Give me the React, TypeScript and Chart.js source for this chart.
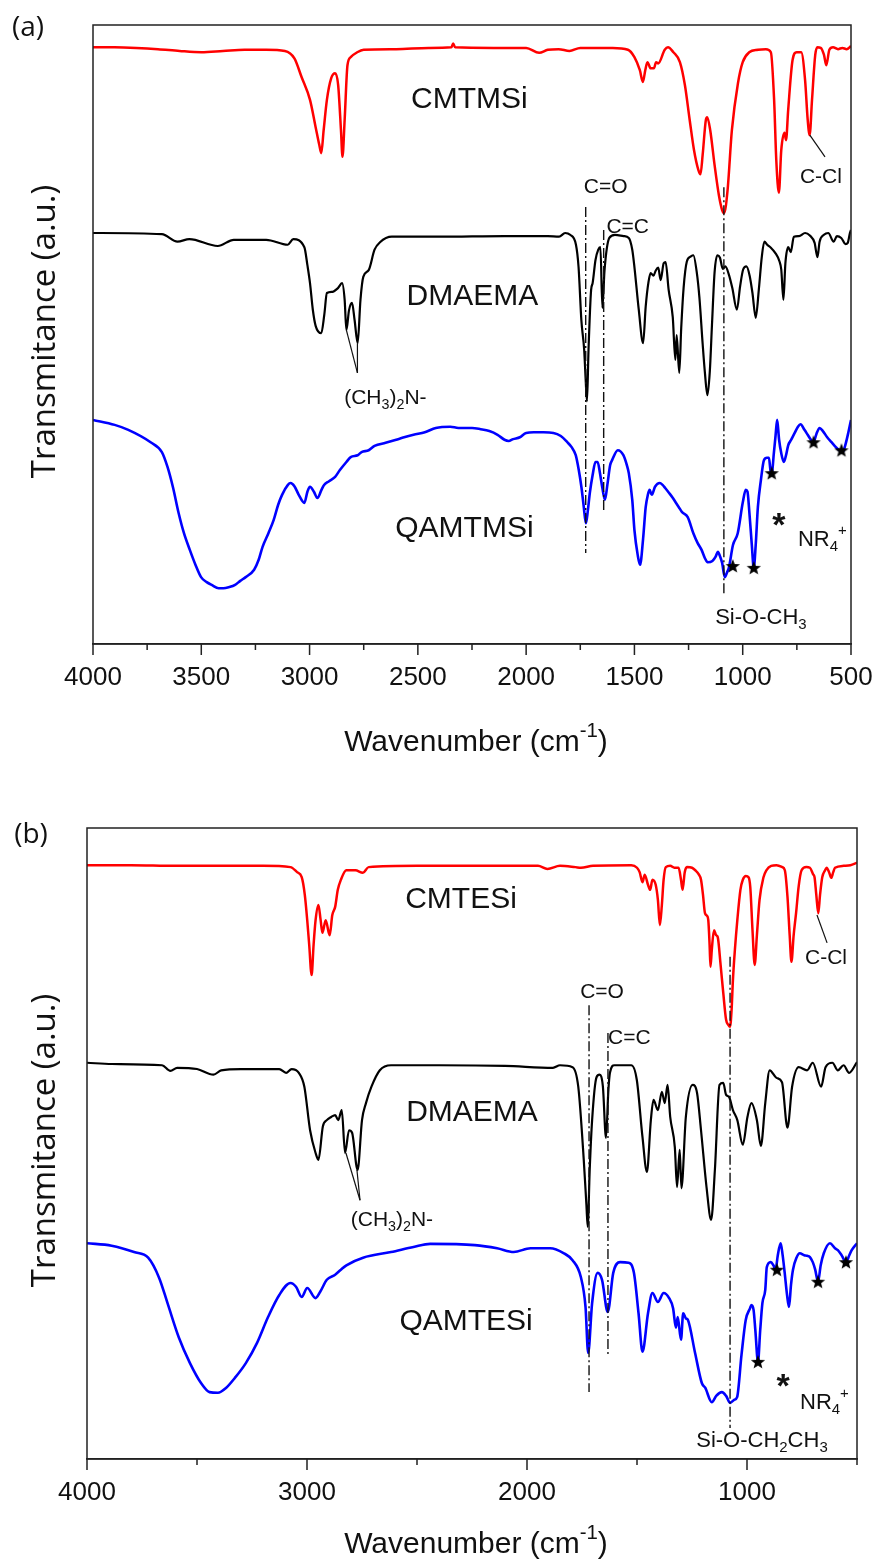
import React, { useEffect, useRef } from "react";
import { Chart, registerables } from "chart.js";
Chart.register(...registerables);

type Pt = [number, number];

// ---------- Panel (a) spectra : [wavenumber, transmittance a.u.] ----------
const cmtmsi: Pt[] = [[4000,96.4],[3900,96.4],[3800,96.3],[3700,96.1],[3600,95.8],[3500,95.6],[3400,95.8],[3300,96.0],[3200,96.0],[3114,95.8],[3070,94.6],[3037,91.6],[2998,87.9],[2972,83.5],[2955,80.6],[2946,79.3],[2935,83.0],[2920,87.9],[2900,91.4],[2882,92.2],[2868,90.3],[2855,83.0],[2848,78.7],[2838,84.7],[2825,93.5],[2810,94.8],[2780,95.6],[2750,96.0],[2600,96.1],[2450,96.3],[2345,96.4],[2337,97.0],[2328,96.4],[2150,96.3],[2000,96.3],[1940,95.5],[1900,96.0],[1850,96.1],[1800,95.8],[1750,96.3],[1600,96.3],[1530,96.0],[1500,94.8],[1475,92.7],[1461,90.8],[1450,92.7],[1440,94.0],[1425,93.0],[1410,93.0],[1400,94.0],[1390,93.8],[1360,96.0],[1345,96.4],[1320,95.6],[1290,94.0],[1267,90.3],[1245,84.7],[1225,79.8],[1205,76.6],[1195,75.9],[1185,79.0],[1170,84.7],[1164,85.1],[1150,83.0],[1130,77.4],[1110,72.5],[1095,70.1],[1086,69.6],[1070,73.3],[1050,83.0],[1022,90.6],[1000,94.0],[970,95.6],[930,96.0],[893,96.1],[870,95.6],[855,87.9],[845,78.2],[833,72.9],[822,79.8],[807,82.6],[800,81.4],[790,86.3],[770,94.3],[751,95.6],[730,95.6],[712,91.1],[700,84.7],[691,82.2],[680,87.9],[665,95.2],[655,96.4],[640,96.3],[625,95.2],[614,93.5],[600,96.0],[583,96.4],[560,96.1],[540,96.3],[520,96.1],[500,96.6]];

const dmaemaA: Pt[] = [[4000,66.4],[3682,66.2],[3610,65.0],[3555,65.4],[3424,64.3],[3350,65.3],[3200,65.3],[3101,64.5],[3075,65.4],[3024,64.1],[3010,61.2],[2998,58.3],[2985,54.0],[2972,51.4],[2946,50.2],[2932,53.2],[2920,56.7],[2895,56.9],[2869,57.5],[2850,58.3],[2838,55.6],[2830,50.7],[2818,53.9],[2804,55.1],[2792,52.3],[2778,48.6],[2765,55.6],[2752,59.3],[2727,60.4],[2700,63.7],[2675,64.9],[2620,65.8],[2400,65.8],[2100,65.9],[1900,65.9],[1848,65.8],[1820,66.4],[1797,66.1],[1770,64.5],[1758,60.9],[1745,52.3],[1732,47.5],[1725,42.6],[1719,39.2],[1712,47.5],[1700,57.2],[1693,58.3],[1680,62.0],[1667,63.7],[1657,64.1],[1648,54.3],[1638,60.4],[1616,65.6],[1590,66.1],[1550,65.9],[1526,65.6],[1510,63.7],[1500,60.9],[1480,54.0],[1460,48.6],[1448,54.5],[1435,58.5],[1425,59.9],[1412,59.5],[1402,60.3],[1390,60.8],[1379,58.8],[1365,61.5],[1356,61.7],[1342,57.2],[1323,52.8],[1311,45.9],[1305,49.9],[1293,43.8],[1284,51.0],[1273,57.5],[1258,61.8],[1240,62.6],[1228,62.8],[1212,60.0],[1200,56.0],[1185,48.5],[1175,44.0],[1163,40.2],[1152,44.0],[1142,51.5],[1130,60.0],[1117,62.8],[1105,62.4],[1092,60.6],[1080,61.0],[1065,59.8],[1048,57.5],[1027,54.0],[1012,57.8],[998,60.5],[983,61.0],[968,59.5],[955,56.7],[940,52.7],[925,57.5],[912,62.5],[900,65.0],[887,64.5],[870,64.0],[850,63.2],[830,61.8],[822,60.5],[812,55.6],[803,61.5],[790,64.1],[778,63.3],[764,65.8],[740,65.9],[712,66.4],[690,66.0],[668,64.8],[655,62.5],[645,65.0],[625,66.1],[605,66.4],[580,65.0],[565,65.9],[545,65.6],[525,64.6],[515,64.8],[505,66.4],[500,66.9]];

const qamtmsi: Pt[] = [[4000,36.2],[3900,35.4],[3837,34.6],[3734,32.6],[3682,31.0],[3656,28.6],[3630,25.2],[3605,21.2],[3580,17.9],[3553,15.2],[3527,12.8],[3501,10.8],[3475,10.0],[3450,9.5],[3420,9.0],[3398,9.0],[3370,9.2],[3346,9.5],[3320,10.2],[3295,10.8],[3256,12.0],[3235,13.6],[3217,15.7],[3190,17.9],[3166,20.0],[3145,22.5],[3127,24.1],[3100,25.7],[3088,26.0],[3070,25.5],[3050,24.1],[3024,22.8],[3010,24.6],[2998,25.4],[2980,24.6],[2964,23.6],[2945,24.9],[2933,25.7],[2910,26.3],[2882,27.0],[2860,28.1],[2830,29.4],[2810,30.2],[2778,30.5],[2760,31.0],[2727,31.3],[2700,32.0],[2649,32.5],[2600,33.0],[2572,33.3],[2520,33.8],[2468,34.2],[2417,34.9],[2350,35.1],[2313,34.9],[2250,34.9],[2210,34.7],[2170,34.4],[2132,33.8],[2100,33.0],[2081,32.8],[2060,33.1],[2029,33.4],[2000,34.1],[1965,34.2],[1920,34.2],[1874,34.1],[1840,33.6],[1810,32.6],[1790,31.8],[1771,30.5],[1757,28.1],[1745,25.4],[1735,22.5],[1724,19.5],[1715,21.6],[1706,24.4],[1693,27.3],[1680,29.4],[1670,29.4],[1660,27.8],[1648,25.2],[1636,23.3],[1625,25.7],[1612,28.9],[1603,29.7],[1577,31.3],[1551,30.5],[1535,28.9],[1526,27.6],[1510,23.3],[1500,18.4],[1485,14.4],[1474,12.8],[1460,17.0],[1448,22.1],[1438,24.1],[1430,24.9],[1420,24.1],[1405,25.4],[1383,26.0],[1370,25.7],[1358,25.2],[1340,24.4],[1325,23.7],[1310,22.9],[1295,22.1],[1280,21.3],[1254,20.5],[1228,17.9],[1208,16.3],[1190,15.2],[1175,13.9],[1162,13.2],[1140,13.4],[1125,14.1],[1115,14.9],[1105,14.2],[1095,13.1],[1083,10.8],[1072,11.6],[1064,12.3],[1045,16.0],[1023,17.9],[1000,22.8],[986,24.9],[978,24.6],[970,21.6],[958,16.0],[949,12.3],[940,16.0],[930,22.1],[916,26.5],[902,29.7],[888,30.1],[879,30.1],[872,28.1],[866,27.6],[856,30.9],[848,33.8],[841,36.2],[832,33.0],[823,31.0],[810,29.4],[800,30.5],[790,32.1],[776,33.0],[760,34.1],[745,35.1],[733,35.5],[715,34.6],[700,33.8],[685,33.0],[673,32.6],[660,33.9],[645,34.9],[630,34.4],[610,33.4],[590,32.6],[570,31.8],[550,31.2],[538,31.0],[525,32.3],[512,34.2],[500,36.2]];

// ---------- Panel (b) spectra ----------
const cmtesi: Pt[] = [[4000,94.1],[3800,94.1],[3600,94.0],[3400,94.0],[3200,94.0],[3075,93.8],[3045,93.0],[3024,92.2],[3010,89.4],[2999,85.4],[2990,81.5],[2979,76.7],[2970,81.5],[2961,85.4],[2948,87.8],[2938,85.4],[2930,83.4],[2915,85.4],[2897,83.0],[2885,86.2],[2872,87.5],[2860,90.2],[2846,91.8],[2821,93.3],[2780,93.3],[2746,92.9],[2720,93.8],[2500,94.0],[2200,94.0],[1950,94.0],[1907,93.5],[1850,94.0],[1780,93.8],[1755,93.7],[1700,94.0],[1526,94.1],[1500,93.7],[1488,93.0],[1475,91.4],[1465,92.6],[1450,91.0],[1440,90.2],[1430,91.8],[1415,91.0],[1405,88.6],[1396,84.6],[1387,87.8],[1379,91.8],[1369,93.8],[1349,94.0],[1330,93.7],[1311,93.7],[1300,91.8],[1293,90.2],[1283,93.0],[1273,93.8],[1250,93.7],[1235,93.3],[1220,92.7],[1209,91.8],[1200,89.4],[1191,86.5],[1182,86.1],[1176,85.4],[1170,81.5],[1166,78.0],[1160,80.7],[1150,83.8],[1140,83.0],[1133,82.7],[1120,78.3],[1108,73.9],[1095,69.6],[1085,68.8],[1077,68.5],[1070,71.2],[1064,75.9],[1055,80.7],[1044,85.4],[1030,90.2],[1019,91.8],[1005,92.4],[993,92.2],[985,90.6],[975,83.8],[965,78.3],[955,83.0],[943,88.6],[925,92.2],[912,93.3],[890,94.0],[866,94.1],[840,93.8],[828,93.3],[816,89.1],[806,83.0],[798,78.8],[788,83.0],[777,86.5],[765,90.8],[752,93.3],[730,93.8],[714,93.7],[700,92.7],[693,92.2],[685,89.4],[676,86.5],[668,89.4],[658,92.2],[645,93.3],[638,93.7],[627,93.0],[617,92.1],[608,93.0],[600,93.7],[560,94.0],[530,94.1],[500,94.5]];

const dmaemaB: Pt[] = [[4000,62.8],[3887,62.6],[3659,62.4],[3621,61.5],[3590,62.0],[3500,61.8],[3425,60.9],[3390,61.6],[3300,61.8],[3126,61.8],[3095,61.2],[3070,61.8],[3037,61.2],[3012,59.0],[2986,52.1],[2961,48.5],[2948,47.4],[2928,52.7],[2910,53.7],[2890,54.2],[2872,54.5],[2858,53.7],[2842,55.3],[2827,48.5],[2809,52.1],[2795,51.7],[2770,45.8],[2750,53.7],[2732,56.4],[2707,59.0],[2669,61.6],[2618,62.4],[2400,62.4],[2100,62.3],[1882,62.0],[1850,62.4],[1793,62.1],[1767,59.0],[1742,47.4],[1730,40.3],[1724,36.8],[1715,45.8],[1704,53.7],[1684,60.5],[1670,60.9],[1655,59.0],[1641,50.9],[1630,58.5],[1623,61.2],[1603,62.4],[1526,62.4],[1501,60.1],[1475,51.0],[1455,45.5],[1437,53.7],[1425,56.9],[1405,55.3],[1387,58.2],[1374,56.4],[1361,59.3],[1349,54.2],[1328,49.4],[1318,43.1],[1306,49.0],[1298,42.9],[1278,54.2],[1247,59.3],[1227,58.0],[1209,52.1],[1184,43.1],[1163,37.9],[1146,45.8],[1125,59.3],[1108,59.6],[1095,57.7],[1082,57.4],[1064,55.3],[1044,53.7],[1019,49.8],[998,54.2],[980,56.4],[955,53.7],[937,49.6],[917,56.4],[897,61.6],[866,60.4],[841,59.7],[816,52.5],[795,59.0],[765,62.1],[727,61.6],[701,62.8],[663,59.0],[643,62.1],[612,62.8],[587,61.6],[561,62.4],[536,61.2],[500,62.9]];

const qamtesi: Pt[] = [[4000,34.2],[3888,33.8],[3786,32.8],[3722,31.9],[3672,28.7],[3634,24.7],[3583,19.3],[3532,15.2],[3481,12.0],[3443,10.6],[3405,10.5],[3367,11.3],[3329,12.8],[3278,15.2],[3227,18.4],[3177,22.5],[3126,26.0],[3075,27.9],[3050,27.3],[3024,25.7],[2999,27.1],[2961,25.5],[2940,26.5],[2910,28.4],[2872,29.2],[2846,30.0],[2821,30.7],[2745,31.9],[2618,32.8],[2516,33.6],[2440,34.1],[2237,33.9],[2136,33.4],[2060,32.8],[1984,33.4],[1895,33.4],[1832,32.6],[1793,31.5],[1755,28.8],[1734,24.1],[1722,16.8],[1704,24.7],[1679,29.5],[1659,28.4],[1633,23.3],[1608,29.5],[1577,31.2],[1539,31.1],[1514,29.5],[1493,23.1],[1475,17.0],[1450,23.1],[1430,26.3],[1405,24.9],[1379,26.3],[1354,25.5],[1336,23.9],[1323,20.8],[1315,22.5],[1300,18.9],[1290,23.1],[1278,22.3],[1268,22.0],[1236,16.8],[1205,12.0],[1190,11.3],[1160,9.0],[1140,10.0],[1114,10.6],[1095,10.0],[1077,8.9],[1057,9.4],[1045,9.8],[1025,16.5],[1006,22.0],[986,23.9],[980,24.4],[970,23.6],[962,20.4],[950,15.4],[940,20.4],[930,24.7],[917,26.8],[910,30.4],[892,31.2],[880,30.7],[870,30.0],[860,32.3],[847,34.2],[838,32.3],[829,29.6],[818,26.0],[809,24.1],[800,27.6],[791,30.0],[775,31.9],[760,32.6],[740,32.3],[727,32.2],[714,32.0],[701,31.2],[690,30.0],[677,28.1],[665,30.7],[651,32.6],[623,34.2],[600,33.4],[587,33.1],[570,32.3],[550,31.2],[535,32.3],[524,33.1],[500,34.2]];

// ---------- markers & ticks ----------
const starsA: Pt[] = [[1046,12.6],[949,12.3],[866,27.6],[673,32.6],[544,31.3]];
const starsB: Pt[] = [[950,15.4],[864,30.0],[677,28.1],[550,31.2]];
const tickLabelsA = [4000, 3500, 3000, 2500, 2000, 1500, 1000, 500];
const minorTicksA = [3750, 3250, 2750, 2250, 1750, 1250, 750];
const tickLabelsB = [4000, 3000, 2000, 1000];
const minorTicksB = [3500, 2500, 1500, 500];

// guide lines [wavenumber, yTop, yBottom]
const guidesA: [number, number, number][] = [[1725, 70.6, 14.7], [1642, 66.9, 21.2], [1087, 73.8, 8.2]];
const guidesB: [number, number, number][] = [[1718, 71.9, 10.6], [1632, 67.5, 16.5], [1077, 79.6, 4.9]];
const leadersA: Pt[][] = [[[690, 82.2], [620, 78.7]], [[2830, 50.7], [2779, 43.8]], [[2779, 48.6], [2779, 43.8]]];
const leadersB: Pt[][] = [[[682, 86.2], [636, 81.8]], [[2823, 48.5], [2759, 41.0]], [[2773, 45.8], [2759, 41.0]]];

type Part = { t: string; s?: "sub" | "sup" };
type Label = { x: number; y: number; parts: Part[]; size: number; align?: string; bold?: boolean };

const P = (t: string, s?: "sub" | "sup"): Part => ({ t, s });

const labelsA: Label[] = [
  { x: 2262, y: 87.9, parts: [P("CMTMSi")], size: 30 },
  { x: 2248, y: 56.1, parts: [P("DMAEMA")], size: 30 },
  { x: 2285, y: 18.7, parts: [P("QAMTMSi")], size: 30 },
  { x: 1633, y: 73.8, parts: [P("C=O")], size: 21 },
  { x: 1531, y: 67.4, parts: [P("C=C")], size: 21 },
  { x: 639, y: 75.4, parts: [P("C-Cl")], size: 21 },
  { x: 2650, y: 39.7, parts: [P("(CH"), P("3", "sub"), P(")"), P("2", "sub"), P("N-")], size: 21 },
  { x: 916, y: 4.2, parts: [P("Si-O-CH"), P("3", "sub")], size: 22 },
  { x: 745, y: 16.8, parts: [P("NR"), P("4", "sub"), P("+", "sup")], size: 22, align: "left" },
  { x: 833, y: 18.9, parts: [P("*")], size: 34, bold: true },
];
const labelsB: Label[] = [
  { x: 2300, y: 88.6, parts: [P("CMTESi")], size: 30 },
  { x: 2250, y: 54.8, parts: [P("DMAEMA")], size: 30 },
  { x: 2277, y: 21.7, parts: [P("QAMTESi")], size: 30 },
  { x: 1659, y: 74.0, parts: [P("C=O")], size: 21 },
  { x: 1535, y: 66.7, parts: [P("C=C")], size: 21 },
  { x: 641, y: 79.4, parts: [P("C-Cl")], size: 21 },
  { x: 2614, y: 37.9, parts: [P("(CH"), P("3", "sub"), P(")"), P("2", "sub"), P("N-")], size: 21 },
  { x: 932, y: 2.9, parts: [P("Si-O-CH"), P("2", "sub"), P("CH"), P("3", "sub")], size: 22 },
  { x: 759, y: 8.9, parts: [P("NR"), P("4", "sub"), P("+", "sup")], size: 22, align: "left" },
  { x: 836, y: 11.3, parts: [P("*")], size: 34, bold: true },
];

const RED = "#ff0000";
const BLACK = "#000000";
const BLUE = "#0000ff";
const INK = "#111111";

interface Panel {
  key: string;
  tag: string;
  height: number;
  area: { left: number; top: number; right: number; bottom: number };
  series: { data: Pt[]; color: string; width: number }[];
  stars: Pt[];
  guides: [number, number, number][];
  leaders: Pt[][];
  labels: Label[];
  tickLabels: number[];
  minorTicks: number[];
  step: number;
  tickPad: number;
  xTitleDy: number;
  tagPos: [number, number];
}

const panelA: Panel = {
  key: "a", tag: "(a)", height: 780,
  area: { left: 93, top: 25, right: 851, bottom: 644 },
  series: [
    { data: cmtmsi, color: RED, width: 2.5 },
    { data: dmaemaA, color: BLACK, width: 2.2 },
    { data: qamtmsi, color: BLUE, width: 2.6 },
  ],
  stars: starsA, guides: guidesA, leaders: leadersA, labels: labelsA,
  tickLabels: tickLabelsA, minorTicks: minorTicksA, step: 500, tickPad: 7,
  xTitleDy: 99, tagPos: [28, 28],
};
const panelB: Panel = {
  key: "b", tag: "(b)", height: 782,
  area: { left: 87, top: 48, right: 857, bottom: 679 },
  series: [
    { data: cmtesi, color: RED, width: 2.5 },
    { data: dmaemaB, color: BLACK, width: 2.2 },
    { data: qamtesi, color: BLUE, width: 2.6 },
  ],
  stars: starsB, guides: guidesB, leaders: leadersB, labels: labelsB,
  tickLabels: tickLabelsB, minorTicks: minorTicksB, step: 500, tickPad: 7,
  xTitleDy: 86, tagPos: [31, 55],
};

function fontStr(size: number, family: string, bold?: boolean) {
  return `${bold ? "bold " : ""}${size}px "${family}"`;
}

function drawRich(ctx: CanvasRenderingContext2D, parts: Part[], x: number, y: number, size: number, family: string, align = "center", bold = false) {
  const sizes = parts.map((p) => (p.s ? size * 0.68 : size));
  const widths = parts.map((p, i) => {
    ctx.font = fontStr(sizes[i], family, bold);
    return ctx.measureText(p.t).width;
  });
  const W = widths.reduce((a, b) => a + b, 0);
  let cx = align === "center" ? x - W / 2 : align === "right" ? x - W : x;
  ctx.textAlign = "left";
  ctx.textBaseline = "middle";
  parts.forEach((p, i) => {
    ctx.font = fontStr(sizes[i], family, bold);
    const dy = p.s === "sub" ? size * 0.32 : p.s === "sup" ? -size * 0.4 : 0;
    ctx.fillText(p.t, cx, y + dy);
    cx += widths[i];
  });
}

function makeStar(): HTMLCanvasElement {
  const c = document.createElement("canvas");
  c.width = 16;
  c.height = 16;
  const g = c.getContext("2d")!;
  g.fillStyle = "#000";
  g.beginPath();
  for (let i = 0; i < 10; i++) {
    const r = i % 2 === 0 ? 7.5 : 3.2;
    const a = -Math.PI / 2 + (i * Math.PI) / 5;
    const px = 8 + r * Math.cos(a);
    const py = 8.5 + r * Math.sin(a);
    if (i === 0) g.moveTo(px, py);
    else g.lineTo(px, py);
  }
  g.closePath();
  g.fill();
  return c;
}

function makeOverlay(p: Panel) {
  return {
    id: "overlay_" + p.key,
    afterDraw(chart: any) {
      const ctx: CanvasRenderingContext2D = chart.ctx;
      const xs = chart.scales.x;
      const ys = chart.scales.y;
      const { left, top, right, bottom } = chart.chartArea;
      ctx.save();
      // frame
      ctx.strokeStyle = "#222";
      ctx.lineWidth = 1.5;
      ctx.strokeRect(left, top, right - left, bottom - top);
      // ticks
      ctx.beginPath();
      p.tickLabels.forEach((v) => {
        const px = xs.getPixelForValue(v);
        ctx.moveTo(px, bottom);
        ctx.lineTo(px, bottom + 11);
      });
      p.minorTicks.forEach((v) => {
        const px = xs.getPixelForValue(v);
        ctx.moveTo(px, bottom);
        ctx.lineTo(px, bottom + 6);
      });
      ctx.stroke();
      // labels
      ctx.fillStyle = INK;
      p.labels.forEach((l) => {
        drawRich(ctx, l.parts, xs.getPixelForValue(l.x), ys.getPixelForValue(l.y), l.size, "Liberation Sans", l.align || "center", !!l.bold);
      });
      // x title
      drawRich(ctx, [P("Wavenumber (cm"), P("-1", "sup"), P(")")], (left + right) / 2 + 4, bottom + p.xTitleDy, 30, "Liberation Sans");
      // y title
      ctx.save();
      ctx.translate(46, (top + bottom) / 2 - 3);
      ctx.rotate(-Math.PI / 2);
      drawRich(ctx, [P("Transmitance (a.u.)")], 0, 0, 33, "Open Sans");
      ctx.restore();
      // panel tag
      drawRich(ctx, [P(p.tag)], p.tagPos[0], p.tagPos[1], 28, "Open Sans");
      ctx.restore();
    },
  };
}

function build(canvas: HTMLCanvasElement, p: Panel, star: HTMLCanvasElement) {
  const toXY = (d: Pt[]) => d.map(([x, y]) => ({ x, y }));
  const datasets: any[] = [];
  datasets.push({
    data: toXY(p.stars), showLine: false, pointStyle: star, pointRadius: 8,
    borderColor: "#000", backgroundColor: "#000", order: 0,
  });
  p.guides.forEach(([w, y1, y2]) =>
    datasets.push({
      data: [{ x: w, y: y1 }, { x: w, y: y2 }], borderColor: INK, borderWidth: 1.4,
      borderDash: [10, 3, 2, 3], pointRadius: 0, order: 1,
    })
  );
  p.leaders.forEach((seg) =>
    datasets.push({ data: toXY(seg), borderColor: INK, borderWidth: 1.2, pointRadius: 0, order: 1 })
  );
  p.series.forEach((s) =>
    datasets.push({
      data: toXY(s.data), borderColor: s.color, borderWidth: s.width, pointRadius: 0,
      cubicInterpolationMode: "monotone", fill: false, order: 2,
    })
  );
  const width = 876;
  return new Chart(canvas, {
    type: "line",
    data: { datasets },
    options: {
      responsive: false,
      animation: false,
      devicePixelRatio: 1,
      events: [],
      layout: { padding: { left: p.area.left, top: p.area.top, right: width - p.area.right, bottom: 0 } },
      plugins: { legend: { display: false }, tooltip: { enabled: false } },
      scales: {
        x: {
          type: "linear",
          reverse: true,
          min: 500,
          max: 4000,
          afterFit: (s: any) => {
            s.height = p.height - p.area.bottom;
            s.paddingLeft = 0;
            s.paddingRight = 0;
          },
          ticks: {
            stepSize: p.step,
            autoSkip: false,
            maxRotation: 0,
            padding: p.tickPad,
            color: INK,
            font: { family: "Liberation Sans", size: 26 },
            callback: (v: any) => (p.tickLabels.includes(Number(v)) ? String(v) : ""),
          },
          grid: { display: true, drawOnChartArea: false, drawTicks: true, tickLength: 11, tickColor: "rgba(0,0,0,0)" },
          border: { display: true, color: "#222", width: 1.5 },
        },
        y: { display: false, min: 0, max: 100 },
      },
    },
    plugins: [makeOverlay(p)],
  } as any);
}

export default function App() {
  const refA = useRef<HTMLCanvasElement>(null);
  const refB = useRef<HTMLCanvasElement>(null);
  useEffect(() => {
    document.body.style.margin = "0";
    const star = makeStar();
    const a = build(refA.current!, panelA, star);
    const b = build(refB.current!, panelB, star);
    return () => {
      a.destroy();
      b.destroy();
    };
  }, []);
  return (
    <div style={{ width: 876, height: 1562, background: "#fff" }}>
      <canvas ref={refA} width={876} height={780} style={{ display: "block", width: 876, height: 780 }} />
      <canvas ref={refB} width={876} height={782} style={{ display: "block", width: 876, height: 782 }} />
    </div>
  );
}
